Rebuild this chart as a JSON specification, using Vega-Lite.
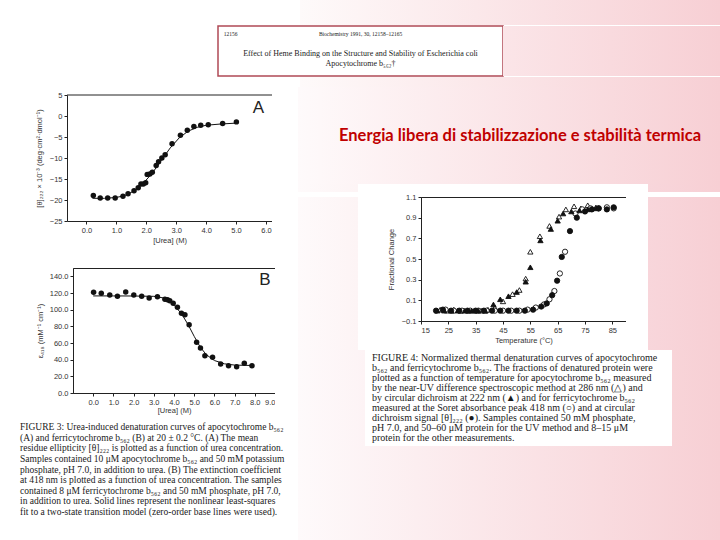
{
  "$schema": "https://vega.github.io/schema/vega-lite/v6.json",
  "padding": 0,
  "background": "white",
  "spacing": 0,
  "config": {
    "view": {"stroke": null},
    "axis": {
      "grid": false, "domainColor": "#222", "domainWidth": 1, "tickColor": "#222", "tickSize": 3,
      "labelColor": "#333", "titleColor": "#333", "labelFont": "Liberation Sans", "titleFont": "Liberation Sans",
      "labelFontSize": 7.5, "titleFontSize": 7.5, "titleFontWeight": "normal", "labelPadding": 2, "labelOverlap": false
    }
  },
  "datasets": {
    "none": [],
    "blank": [{}],
    "title": [{"text": "Energia libera di stabilizzazione e stabilità termica"}],
    "headerTop": [{"line": 1, "text": "Biochemistry 1991, 30, 12158–12165"}],
    "headerTitle": [
      {"line": 3, "text": "Effect of Heme Binding on the Structure and Stability of Escherichia coli"},
      {"line": 4, "text": "Apocytochrome b₅₆₂†"}
    ],
    "ureaA": [
      {"urea": 0.23, "theta": -18.9}, {"urea": 0.46, "theta": -19.5}, {"urea": 0.71, "theta": -19.5},
      {"urea": 0.96, "theta": -19.5}, {"urea": 1.22, "theta": -19.1}, {"urea": 1.39, "theta": -18.5},
      {"urea": 1.59, "theta": -17.8}, {"urea": 1.73, "theta": -17.1}, {"urea": 1.82, "theta": -16.2},
      {"urea": 1.9, "theta": -16.2}, {"urea": 1.98, "theta": -15.9}, {"urea": 2.03, "theta": -13.9},
      {"urea": 2.12, "theta": -13.8}, {"urea": 2.2, "theta": -13.4}, {"urea": 2.33, "theta": -11.8},
      {"urea": 2.41, "theta": -10.9}, {"urea": 2.52, "theta": -10.0}, {"urea": 2.63, "theta": -9.2},
      {"urea": 2.86, "theta": -6.6}, {"urea": 3.14, "theta": -4.6}, {"urea": 3.37, "theta": -3.4},
      {"urea": 3.59, "theta": -2.5}, {"urea": 3.82, "theta": -2.2}, {"urea": 4.07, "theta": -2.1},
      {"urea": 4.55, "theta": -1.8}, {"urea": 5.01, "theta": -1.4}
    ],
    "fitA": [
      {"urea": 0.2, "theta": -19.6}, {"urea": 0.6, "theta": -19.6}, {"urea": 1.0, "theta": -19.4},
      {"urea": 1.3, "theta": -18.9}, {"urea": 1.6, "theta": -17.8}, {"urea": 1.9, "theta": -16.0},
      {"urea": 2.2, "theta": -13.6}, {"urea": 2.5, "theta": -10.6}, {"urea": 2.8, "theta": -7.6},
      {"urea": 3.1, "theta": -5.2}, {"urea": 3.4, "theta": -3.6}, {"urea": 3.7, "theta": -2.7},
      {"urea": 4.0, "theta": -2.2}, {"urea": 4.5, "theta": -1.9}, {"urea": 5.0, "theta": -1.7}
    ],
    "ureaB": [
      {"urea": 0.02, "eps": 120.8}, {"urea": 0.4, "eps": 119.6}, {"urea": 0.82, "eps": 117.6},
      {"urea": 1.2, "eps": 116}, {"urea": 1.61, "eps": 121.2}, {"urea": 2.01, "eps": 117.6},
      {"urea": 2.4, "eps": 116}, {"urea": 2.77, "eps": 114}, {"urea": 3.18, "eps": 115.6},
      {"urea": 3.55, "eps": 112.4}, {"urea": 3.68, "eps": 112}, {"urea": 3.79, "eps": 110.8},
      {"urea": 3.96, "eps": 107.6}, {"urea": 4.17, "eps": 102.8}, {"urea": 4.37, "eps": 95.6},
      {"urea": 4.54, "eps": 94}, {"urea": 4.75, "eps": 82}, {"urea": 5.12, "eps": 60.8},
      {"urea": 5.31, "eps": 54}, {"urea": 5.53, "eps": 44.8}, {"urea": 5.91, "eps": 42.8},
      {"urea": 6.31, "eps": 34.8}, {"urea": 6.7, "eps": 32.8}, {"urea": 7.1, "eps": 31.6},
      {"urea": 7.48, "eps": 35.6}, {"urea": 7.86, "eps": 32.8}
    ],
    "fitB": [
      {"urea": 0, "eps": 116.5}, {"urea": 1, "eps": 116.5}, {"urea": 2, "eps": 116.4}, {"urea": 3, "eps": 116},
      {"urea": 3.5, "eps": 114}, {"urea": 3.8, "eps": 110}, {"urea": 4.1, "eps": 103}, {"urea": 4.4, "eps": 94},
      {"urea": 4.7, "eps": 82}, {"urea": 5.0, "eps": 68}, {"urea": 5.3, "eps": 55}, {"urea": 5.6, "eps": 46},
      {"urea": 6.0, "eps": 39}, {"urea": 6.5, "eps": 35}, {"urea": 7.0, "eps": 33.5}, {"urea": 7.9, "eps": 33}
    ],
    "thermal": [
      {"series": "apo UV 286 nm", "temp": 22, "frac": 0.01}, {"series": "apo UV 286 nm", "temp": 24.5, "frac": 0.0},
      {"series": "apo UV 286 nm", "temp": 27, "frac": 0.01}, {"series": "apo UV 286 nm", "temp": 29.5, "frac": 0.0},
      {"series": "apo UV 286 nm", "temp": 32, "frac": 0.0}, {"series": "apo UV 286 nm", "temp": 34.5, "frac": 0.0},
      {"series": "apo UV 286 nm", "temp": 37, "frac": 0.0}, {"series": "apo UV 286 nm", "temp": 39.5, "frac": 0.01},
      {"series": "apo UV 286 nm", "temp": 42, "frac": 0.03}, {"series": "apo UV 286 nm", "temp": 45, "frac": 0.09},
      {"series": "apo UV 286 nm", "temp": 48.5, "frac": 0.16}, {"series": "apo UV 286 nm", "temp": 51, "frac": 0.2},
      {"series": "apo UV 286 nm", "temp": 53.3, "frac": 0.31}, {"series": "apo UV 286 nm", "temp": 55, "frac": 0.57},
      {"series": "apo UV 286 nm", "temp": 58.5, "frac": 0.72}, {"series": "apo UV 286 nm", "temp": 62, "frac": 0.82},
      {"series": "apo UV 286 nm", "temp": 65.5, "frac": 0.91}, {"series": "apo UV 286 nm", "temp": 68, "frac": 0.98},
      {"series": "apo UV 286 nm", "temp": 71, "frac": 1.01}, {"series": "apo UV 286 nm", "temp": 73.5, "frac": 0.99},
      {"series": "apo UV 286 nm", "temp": 76, "frac": 1.02}, {"series": "apo UV 286 nm", "temp": 79, "frac": 1.0},
      {"series": "ferri Soret 418 nm", "temp": 24, "frac": 0.01}, {"series": "ferri Soret 418 nm", "temp": 27, "frac": 0.0},
      {"series": "ferri Soret 418 nm", "temp": 30, "frac": 0.0}, {"series": "ferri Soret 418 nm", "temp": 33, "frac": 0.0},
      {"series": "ferri Soret 418 nm", "temp": 36, "frac": 0.0}, {"series": "ferri Soret 418 nm", "temp": 39, "frac": 0.0},
      {"series": "ferri Soret 418 nm", "temp": 42, "frac": 0.0}, {"series": "ferri Soret 418 nm", "temp": 45, "frac": 0.0},
      {"series": "ferri Soret 418 nm", "temp": 48, "frac": 0.0}, {"series": "ferri Soret 418 nm", "temp": 51, "frac": 0.0},
      {"series": "ferri Soret 418 nm", "temp": 54, "frac": 0.01}, {"series": "ferri Soret 418 nm", "temp": 57, "frac": 0.03},
      {"series": "ferri Soret 418 nm", "temp": 60, "frac": 0.06}, {"series": "ferri Soret 418 nm", "temp": 62, "frac": 0.11},
      {"series": "ferri Soret 418 nm", "temp": 63.8, "frac": 0.19}, {"series": "ferri Soret 418 nm", "temp": 65.8, "frac": 0.36},
      {"series": "ferri Soret 418 nm", "temp": 67.7, "frac": 0.57}, {"series": "ferri Soret 418 nm", "temp": 71.5, "frac": 0.94},
      {"series": "ferri Soret 418 nm", "temp": 74, "frac": 0.98}, {"series": "ferri Soret 418 nm", "temp": 77, "frac": 0.99},
      {"series": "ferri Soret 418 nm", "temp": 80, "frac": 0.99}, {"series": "ferri Soret 418 nm", "temp": 83, "frac": 1.0},
      {"series": "ferri Soret 418 nm", "temp": 85.5, "frac": 0.99},
      {"series": "apo CD 222 nm", "temp": 21, "frac": 0.0}, {"series": "apo CD 222 nm", "temp": 23.5, "frac": 0.0},
      {"series": "apo CD 222 nm", "temp": 26, "frac": 0.0}, {"series": "apo CD 222 nm", "temp": 28.5, "frac": 0.0},
      {"series": "apo CD 222 nm", "temp": 31, "frac": 0.0}, {"series": "apo CD 222 nm", "temp": 33.5, "frac": 0.0},
      {"series": "apo CD 222 nm", "temp": 36, "frac": 0.0}, {"series": "apo CD 222 nm", "temp": 38.5, "frac": 0.0},
      {"series": "apo CD 222 nm", "temp": 41.5, "frac": 0.06}, {"series": "apo CD 222 nm", "temp": 44, "frac": 0.11},
      {"series": "apo CD 222 nm", "temp": 47, "frac": 0.14}, {"series": "apo CD 222 nm", "temp": 50, "frac": 0.18},
      {"series": "apo CD 222 nm", "temp": 53.3, "frac": 0.28}, {"series": "apo CD 222 nm", "temp": 55, "frac": 0.42},
      {"series": "apo CD 222 nm", "temp": 58.7, "frac": 0.68}, {"series": "apo CD 222 nm", "temp": 62.5, "frac": 0.79},
      {"series": "apo CD 222 nm", "temp": 65, "frac": 0.87}, {"series": "apo CD 222 nm", "temp": 67, "frac": 0.94},
      {"series": "apo CD 222 nm", "temp": 70, "frac": 0.96}, {"series": "apo CD 222 nm", "temp": 73, "frac": 0.97},
      {"series": "apo CD 222 nm", "temp": 76, "frac": 0.98}, {"series": "apo CD 222 nm", "temp": 79, "frac": 0.99},
      {"series": "ferri CD 222 nm", "temp": 20.5, "frac": 0.0}, {"series": "ferri CD 222 nm", "temp": 23, "frac": 0.01},
      {"series": "ferri CD 222 nm", "temp": 26, "frac": 0.0}, {"series": "ferri CD 222 nm", "temp": 29, "frac": 0.0},
      {"series": "ferri CD 222 nm", "temp": 32, "frac": 0.0}, {"series": "ferri CD 222 nm", "temp": 35, "frac": 0.0},
      {"series": "ferri CD 222 nm", "temp": 38, "frac": 0.0}, {"series": "ferri CD 222 nm", "temp": 41, "frac": 0.0},
      {"series": "ferri CD 222 nm", "temp": 44, "frac": 0.0}, {"series": "ferri CD 222 nm", "temp": 47, "frac": 0.0},
      {"series": "ferri CD 222 nm", "temp": 50, "frac": 0.0}, {"series": "ferri CD 222 nm", "temp": 53, "frac": 0.0},
      {"series": "ferri CD 222 nm", "temp": 56, "frac": 0.01}, {"series": "ferri CD 222 nm", "temp": 59, "frac": 0.04},
      {"series": "ferri CD 222 nm", "temp": 61, "frac": 0.07}, {"series": "ferri CD 222 nm", "temp": 63, "frac": 0.15},
      {"series": "ferri CD 222 nm", "temp": 64.8, "frac": 0.29}, {"series": "ferri CD 222 nm", "temp": 66.5, "frac": 0.52},
      {"series": "ferri CD 222 nm", "temp": 69.5, "frac": 0.77}, {"series": "ferri CD 222 nm", "temp": 72, "frac": 0.9},
      {"series": "ferri CD 222 nm", "temp": 75, "frac": 0.96}, {"series": "ferri CD 222 nm", "temp": 77.5, "frac": 0.98},
      {"series": "ferri CD 222 nm", "temp": 80, "frac": 0.99}, {"series": "ferri CD 222 nm", "temp": 83, "frac": 0.98},
      {"series": "ferri CD 222 nm", "temp": 85.5, "frac": 1.0}
    ],
    "capL": [
      {"line": 1, "text": "FIGURE 3:  Urea-induced denaturation curves of apocytochrome b₅₆₂"},
      {"line": 2, "text": "(A) and ferricytochrome b₅₆₂ (B) at 20 ± 0.2 °C.  (A) The mean"},
      {"line": 3, "text": "residue ellipticity [θ]₂₂₂ is plotted as a function of urea concentration."},
      {"line": 4, "text": "Samples contained 10 μM apocytochrome b₅₆₂ and 50 mM potassium"},
      {"line": 5, "text": "phosphate, pH 7.0, in addition to urea.  (B) The extinction coefficient"},
      {"line": 6, "text": "at 418 nm is plotted as a function of urea concentration.  The samples"},
      {"line": 7, "text": "contained 8 μM ferricytochrome b₅₆₂ and 50 mM phosphate, pH 7.0,"},
      {"line": 8, "text": "in addition to urea.  Solid lines represent the nonlinear least-squares"},
      {"line": 9, "text": "fit to a two-state transition model (zero-order base lines were used)."}
    ],
    "capR": [
      {"line": 1, "text": "FIGURE 4:  Normalized thermal denaturation curves of apocytochrome"},
      {"line": 2, "text": "b₅₆₂ and ferricytochrome b₅₆₂.  The fractions of denatured protein were"},
      {"line": 3, "text": "plotted as a function of temperature for apocytochrome b₅₆₂ measured"},
      {"line": 4, "text": "by the near-UV difference spectroscopic method at 286 nm (△) and"},
      {"line": 5, "text": "by circular dichroism at 222 nm (▲) and for ferricytochrome b₅₆₂"},
      {"line": 6, "text": "measured at the Soret absorbance peak 418 nm (○) and at circular"},
      {"line": 7, "text": "dichroism signal [θ]₂₂₂ (●).  Samples contained 50 mM phosphate,"},
      {"line": 8, "text": "pH 7.0, and 50–60 μM protein for the UV method and 8–15 μM"},
      {"line": 9, "text": "protein for the other measurements."}
    ]
  },
  "vconcat": [
    {
      "spacing": 0,
      "vconcat": [
        {"spacing": 0, "bounds": "flush", "hconcat": [
          {"width": 300, "height": 25, "view": {"fill": "white", "stroke": null}, "data": {"name": "none"}, "mark": "point"},
          {"width": 420, "height": 25, "view": {"fill": {"gradient": "linear", "x1": 0, "y1": 0, "x2": 1, "y2": 0, "stops": [{"offset": 0, "color": "#fefafa"}, {"offset": 1, "color": "#f7cfd4"}]}, "stroke": null}, "data": {"name": "none"}, "mark": "point"}
        ]},
        {"spacing": 0, "bounds": "flush", "hconcat": [
          {"width": 218, "height": 50, "view": {"fill": "white", "stroke": null}, "data": {"name": "none"}, "mark": "point"},
          {
            "width": 285, "height": 50,
            "view": {"fill": "white", "stroke": "#b04a55", "strokeWidth": 1.5},
            "layer": [
              {"data": {"name": "headerTop"},
               "mark": {"type": "text", "font": "Liberation Serif", "fontSize": 5.5, "color": "#222", "baseline": "middle"},
               "encoding": {
                 "y": {"field": "line", "type": "ordinal", "scale": {"type": "point", "domain": [1, 2, 3, 4], "padding": 1.07, "align": 0.38}, "axis": null},
                 "text": {"field": "text"}
               }},
              {"data": {"name": "headerTitle"},
               "mark": {"type": "text", "font": "Liberation Serif", "fontSize": 8, "color": "#222", "baseline": "middle"},
               "encoding": {
                 "y": {"field": "line", "type": "ordinal", "axis": null},
                 "text": {"field": "text"}
               }},
              {"data": {"name": "blank"},
               "mark": {"type": "text", "text": "12156", "font": "Liberation Serif", "fontSize": 5.5, "color": "#222", "align": "left", "baseline": "middle"},
               "encoding": {
                 "x": {"datum": 0.02, "type": "quantitative", "scale": {"domain": [0, 1]}, "axis": null},
                 "y": {"datum": 1, "type": "ordinal", "axis": null}
               }}
            ]
          },
          {"width": 217, "height": 50, "view": {"fill": {"gradient": "linear", "x1": 0, "y1": 0, "x2": 1, "y2": 0, "stops": [{"offset": 0, "color": "#fbe5e8"}, {"offset": 1, "color": "#f7cfd4"}]}, "stroke": null}, "data": {"name": "none"}, "mark": "point"}
        ]},
        {"spacing": 0, "bounds": "flush", "hconcat": [
          {"width": 300, "height": 10, "view": {"fill": "white", "stroke": null}, "data": {"name": "none"}, "mark": "point"},
          {"width": 420, "height": 10, "view": {"fill": {"gradient": "linear", "x1": 0, "y1": 0, "x2": 1, "y2": 0, "stops": [{"offset": 0, "color": "#fefafa"}, {"offset": 1, "color": "#f7cfd4"}]}, "stroke": null}, "data": {"name": "none"}, "mark": "point"}
        ]}
      ]
    },
    {
      "spacing": 0,
      "hconcat": [
        {
          "spacing": 0,
          "vconcat": [
            {"width": 298, "height": 4, "view": {"fill": "white", "stroke": null}, "data": {"name": "none"}, "mark": "point"},
            {"spacing": 0, "bounds": "flush", "hconcat": [
              {"width": 67, "height": 172, "view": {"fill": "white", "stroke": null}, "data": {"name": "none"}, "mark": "point"},
              {
                "width": 205, "height": 126,
                "view": {"fill": "white", "stroke": null},
                "layer": [
                  {"data": {"name": "fitA"},
                   "mark": {"type": "line", "color": "#111", "strokeWidth": 1},
                   "encoding": {
                     "x": {"field": "urea", "type": "quantitative", "scale": {"domain": [-0.65, 6.2], "nice": false, "zero": false},
                           "axis": {"values": [0, 1, 2, 3, 4, 5, 6], "format": ".1f", "title": "[Urea] (M)", "titlePadding": 3, "labelOverlap": false}},
                     "y": {"field": "theta", "type": "quantitative", "scale": {"domain": [-25, 5], "nice": false, "zero": false},
                           "axis": {"values": [5, 0, -5, -10, -15, -20, -25], "format": "d", "title": "[θ]₂₂₂ × 10⁻³ (deg·cm²·dmol⁻¹)", "titlePadding": 6, "labelOverlap": false}}
                   }},
                  {"data": {"name": "ureaA"},
                   "mark": {"type": "circle", "size": 30, "color": "#111", "opacity": 1},
                   "encoding": {
                     "x": {"field": "urea", "type": "quantitative",
                           "axis": {"values": [0, 1, 2, 3, 4, 5, 6], "format": ".1f", "title": "[Urea] (M)", "titlePadding": 3, "labelOverlap": false}},
                     "y": {"field": "theta", "type": "quantitative",
                           "axis": {"values": [5, 0, -5, -10, -15, -20, -25], "format": "d", "title": "[θ]₂₂₂ × 10⁻³ (deg·cm²·dmol⁻¹)", "titlePadding": 6, "labelOverlap": false}}
                   }},
                  {"data": {"name": "blank"},
                   "mark": {"type": "rule", "color": "#222", "strokeWidth": 1},
                   "encoding": {
                     "y": {"datum": 5, "type": "quantitative",
                           "axis": {"values": [5, 0, -5, -10, -15, -20, -25], "format": "d", "title": "[θ]₂₂₂ × 10⁻³ (deg·cm²·dmol⁻¹)", "titlePadding": 6, "labelOverlap": false}}
                   }},
                  {"data": {"name": "blank"},
                   "mark": {"type": "text", "text": "A", "font": "Liberation Sans", "fontSize": 17, "color": "#222"},
                   "encoding": {
                     "x": {"datum": 5.75, "type": "quantitative",
                           "axis": {"values": [0, 1, 2, 3, 4, 5, 6], "format": ".1f", "title": "[Urea] (M)", "titlePadding": 3, "labelOverlap": false}},
                     "y": {"datum": 1.8, "type": "quantitative",
                           "axis": {"values": [5, 0, -5, -10, -15, -20, -25], "format": "d", "title": "[θ]₂₂₂ × 10⁻³ (deg·cm²·dmol⁻¹)", "titlePadding": 6, "labelOverlap": false}}
                   }}
                ]
              },
              {"width": 26, "height": 172, "view": {"fill": "white", "stroke": null}, "data": {"name": "none"}, "mark": "point"}
            ]},
            {"spacing": 0, "bounds": "flush", "hconcat": [
              {"width": 73, "height": 154, "view": {"fill": "white", "stroke": null}, "data": {"name": "none"}, "mark": "point"},
              {
                "width": 202, "height": 125,
                "view": {"fill": "white", "stroke": "#222", "strokeWidth": 1},
                "layer": [
                  {"data": {"name": "fitB"},
                   "mark": {"type": "line", "color": "#111", "strokeWidth": 1},
                   "encoding": {
                     "x": {"field": "urea", "type": "quantitative", "scale": {"domain": [-1, 9], "nice": false, "zero": false},
                           "axis": {"values": [0, 1, 2, 3, 4, 5, 6, 7, 8, 9], "format": ".1f", "title": "[Urea] (M)", "titlePadding": 1, "labelOverlap": false}},
                     "y": {"field": "eps", "type": "quantitative", "scale": {"domain": [0, 150], "nice": false, "zero": false},
                           "axis": {"values": [0, 20, 40, 60, 80, 100, 120, 140], "format": ".1f", "title": "ε₄₁₈ (mM⁻¹ cm⁻¹)", "titlePadding": 5, "labelOverlap": false}}
                   }},
                  {"data": {"name": "ureaB"},
                   "mark": {"type": "circle", "size": 30, "color": "#111", "opacity": 1},
                   "encoding": {
                     "x": {"field": "urea", "type": "quantitative",
                           "axis": {"values": [0, 1, 2, 3, 4, 5, 6, 7, 8, 9], "format": ".1f", "title": "[Urea] (M)", "titlePadding": 1, "labelOverlap": false}},
                     "y": {"field": "eps", "type": "quantitative",
                           "axis": {"values": [0, 20, 40, 60, 80, 100, 120, 140], "format": ".1f", "title": "ε₄₁₈ (mM⁻¹ cm⁻¹)", "titlePadding": 5, "labelOverlap": false}}
                   }},
                  {"data": {"name": "blank"},
                   "mark": {"type": "text", "text": "B", "font": "Liberation Sans", "fontSize": 17, "color": "#222"},
                   "encoding": {
                     "x": {"datum": 8.5, "type": "quantitative",
                           "axis": {"values": [0, 1, 2, 3, 4, 5, 6, 7, 8, 9], "format": ".1f", "title": "[Urea] (M)", "titlePadding": 1, "labelOverlap": false}},
                     "y": {"datum": 136, "type": "quantitative",
                           "axis": {"values": [0, 20, 40, 60, 80, 100, 120, 140], "format": ".1f", "title": "ε₄₁₈ (mM⁻¹ cm⁻¹)", "titlePadding": 5, "labelOverlap": false}}
                   }}
                ]
              },
              {"width": 23, "height": 154, "view": {"fill": "white", "stroke": null}, "data": {"name": "none"}, "mark": "point"}
            ]},
            {"spacing": 0, "bounds": "flush", "hconcat": [
              {"width": 20, "height": 95, "view": {"fill": "white", "stroke": null}, "data": {"name": "none"}, "mark": "point"},
              {
                "width": 278, "height": 95,
                "view": {"fill": "white", "stroke": null},
                "data": {"name": "capL"},
                "mark": {"type": "text", "align": "left", "baseline": "middle", "font": "Liberation Serif", "fontSize": 9.5, "color": "#1a1a1a"},
                "encoding": {
                  "x": {"datum": 0, "type": "quantitative", "scale": {"domain": [0, 1]}, "axis": null},
                  "y": {"field": "line", "type": "ordinal", "scale": {"type": "point", "padding": 0.5}, "axis": null},
                  "text": {"field": "text"}
                }
              }
            ]}
          ]
        },
        {
          "spacing": 0,
          "vconcat": [
            {"spacing": 0, "bounds": "flush", "hconcat": [
              {"width": 22, "height": 97, "view": {"fill": {"gradient": "linear", "x1": 0, "y1": 0, "x2": 1, "y2": 0, "stops": [{"offset": 0, "color": "#fefafb"}, {"offset": 1, "color": "#fef8f9"}]}, "stroke": null}, "data": {"name": "none"}, "mark": "point"},
              {
                "width": 400, "height": 97,
                "view": {"fill": {"gradient": "linear", "x1": 0, "y1": 0, "x2": 1, "y2": 0, "stops": [{"offset": 0, "color": "#fef8f9"}, {"offset": 1, "color": "#f7cfd4"}]}, "stroke": null},
                "data": {"name": "title"},
                "mark": {"type": "text", "font": "Lato", "fontSize": 16.5, "fontWeight": "bold", "color": "#c00000", "align": "center", "baseline": "middle"},
                "encoding": {"text": {"field": "text"}}
              }
            ]},
            {"spacing": 0, "bounds": "flush", "hconcat": [
              {"width": 60, "height": 8, "view": {"fill": {"gradient": "linear", "x1": 0, "y1": 0, "x2": 1, "y2": 0, "stops": [{"offset": 0, "color": "#fefafb"}, {"offset": 1, "color": "#fdf4f5"}]}, "stroke": null}, "data": {"name": "none"}, "mark": "point"},
              {"width": 290, "height": 8, "view": {"fill": "white", "stroke": null}, "data": {"name": "none"}, "mark": "point"},
              {"width": 72, "height": 8, "view": {"fill": {"gradient": "linear", "x1": 0, "y1": 0, "x2": 1, "y2": 0, "stops": [{"offset": 0, "color": "#f8d6db"}, {"offset": 1, "color": "#f7cfd4"}]}, "stroke": null}, "data": {"name": "none"}, "mark": "point"}
            ]},
            {"spacing": 0, "bounds": "flush", "hconcat": [
              {"width": 60, "height": 153, "view": {"fill": {"gradient": "linear", "x1": 0, "y1": 0, "x2": 1, "y2": 0, "stops": [{"offset": 0, "color": "#fefafb"}, {"offset": 1, "color": "#fdf4f5"}]}, "stroke": null}, "data": {"name": "none"}, "mark": "point"},
              {"width": 63, "height": 153, "view": {"fill": "white", "stroke": null}, "data": {"name": "none"}, "mark": "point"},
              {
                "width": 205, "height": 124,
                "view": {"fill": "white", "stroke": "#222", "strokeWidth": 1},
                "data": {"name": "thermal"},
                "mark": {"type": "point", "filled": true, "stroke": "#111", "strokeWidth": 0.9, "size": 28, "opacity": 1},
                "encoding": {
                  "x": {"field": "temp", "type": "quantitative", "scale": {"domain": [15, 90], "nice": false, "zero": false},
                        "axis": {"values": [15, 25, 35, 45, 55, 65, 75, 85], "format": "d", "title": "Temperature (°C)", "titlePadding": 3}},
                  "y": {"field": "frac", "type": "quantitative", "scale": {"domain": [-0.1, 1.1], "nice": false, "zero": false},
                        "axis": {"values": [-0.1, 0.1, 0.3, 0.5, 0.7, 0.9, 1.1], "format": ".1f", "title": "Fractional Change", "titlePadding": 6}},
                  "shape": {"field": "series", "type": "nominal",
                            "scale": {"domain": ["apo UV 286 nm", "apo CD 222 nm", "ferri Soret 418 nm", "ferri CD 222 nm"], "range": ["triangle-up", "triangle-up", "circle", "circle"]},
                            "legend": null},
                  "fill": {"field": "series", "type": "nominal",
                           "scale": {"domain": ["apo UV 286 nm", "apo CD 222 nm", "ferri Soret 418 nm", "ferri CD 222 nm"], "range": ["#ffffff", "#111111", "#ffffff", "#111111"]},
                           "legend": null}
                }
              },
              {"width": 22, "height": 153, "view": {"fill": "white", "stroke": null}, "data": {"name": "none"}, "mark": "point"},
              {"width": 72, "height": 153, "view": {"fill": {"gradient": "linear", "x1": 0, "y1": 0, "x2": 1, "y2": 0, "stops": [{"offset": 0, "color": "#f8d6db"}, {"offset": 1, "color": "#f7cfd4"}]}, "stroke": null}, "data": {"name": "none"}, "mark": "point"}
            ]},
            {"spacing": 0, "bounds": "flush", "hconcat": [
              {"width": 67, "height": 96, "view": {"fill": {"gradient": "linear", "x1": 0, "y1": 0, "x2": 1, "y2": 0, "stops": [{"offset": 0, "color": "#fefafb"}, {"offset": 1, "color": "#fdf3f5"}]}, "stroke": null}, "data": {"name": "none"}, "mark": "point"},
              {"width": 7, "height": 96, "view": {"fill": "white", "stroke": null}, "data": {"name": "none"}, "mark": "point"},
              {
                "width": 300, "height": 96,
                "view": {"fill": "white", "stroke": null},
                "data": {"name": "capR"},
                "mark": {"type": "text", "align": "left", "baseline": "middle", "font": "Liberation Serif", "fontSize": 10, "color": "#1a1a1a"},
                "encoding": {
                  "x": {"datum": 0, "type": "quantitative", "scale": {"domain": [0, 1]}, "axis": null},
                  "y": {"field": "line", "type": "ordinal", "scale": {"type": "point", "padding": 0.85}, "axis": null},
                  "text": {"field": "text"}
                }
              },
              {"width": 48, "height": 96, "view": {"fill": {"gradient": "linear", "x1": 0, "y1": 0, "x2": 1, "y2": 0, "stops": [{"offset": 0, "color": "#f8d4d8"}, {"offset": 1, "color": "#f7cfd4"}]}, "stroke": null}, "data": {"name": "none"}, "mark": "point"}
            ]},
            {"width": 422, "height": 97, "view": {"fill": {"gradient": "linear", "x1": 0, "y1": 0, "x2": 1, "y2": 0, "stops": [{"offset": 0, "color": "#fefafb"}, {"offset": 1, "color": "#f7cfd4"}]}, "stroke": null}, "data": {"name": "none"}, "mark": "point"}
          ]
        }
      ]
    }
  ]
}
